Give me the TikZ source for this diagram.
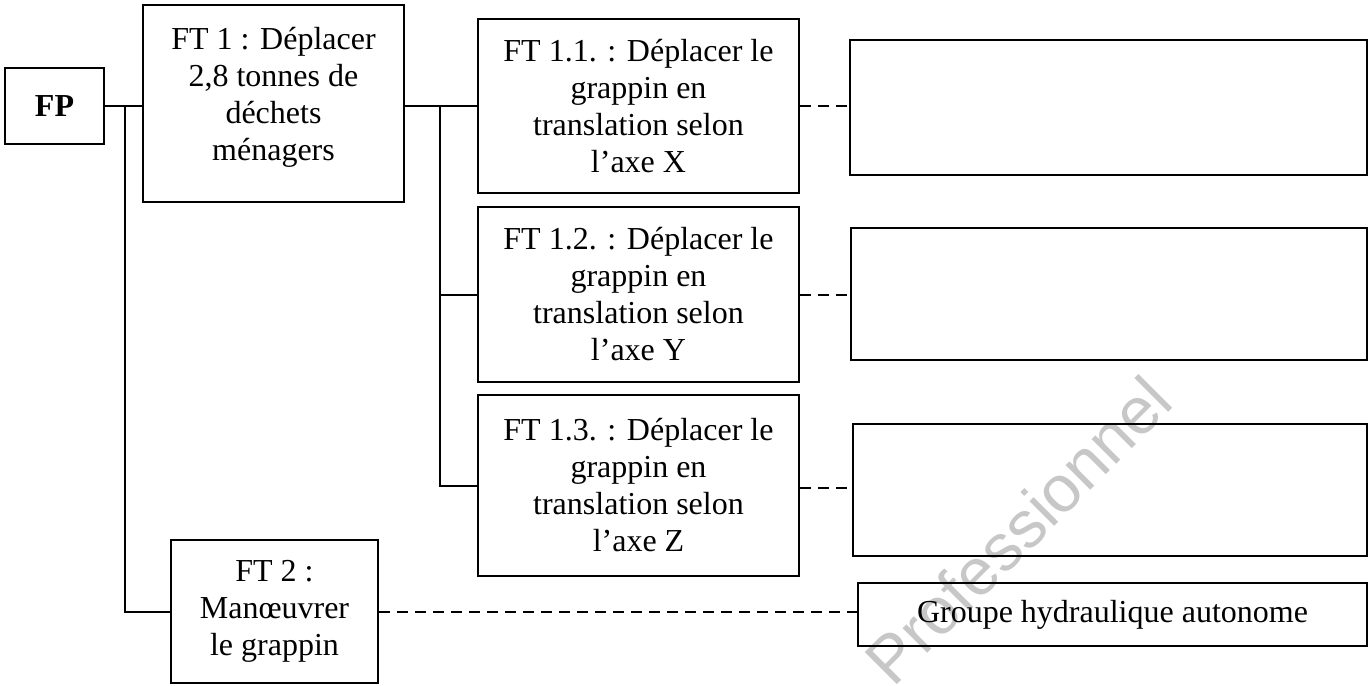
\documentclass[tikz,border=0pt]{standalone}
\usepackage{fontspec}
\setmainfont{Liberation Serif}
\newfontfamily\wmfont{Liberation Sans}
\begin{document}
\begin{tikzpicture}[x=0.5pt,y=-0.5pt,
  box/.style={draw=black, line width=1pt, rectangle, inner sep=0pt, align=center,
    font=\fontsize{16pt}{18.5pt}\selectfont},
  txt/.style={inner sep=0pt, align=center, font=\fontsize{16pt}{18.5pt}\selectfont},
  link/.style={draw=black, line width=1pt},
  dashlink/.style={draw=black, line width=1pt, dash pattern=on 5.5pt off 3.5pt},
  wm/.style={inner sep=0pt, text=black!22, font=\wmfont\fontsize{33pt}{33pt}\selectfont}]
\useasboundingbox (0,0) rectangle (1369,685);
% watermark
\node[wm, rotate=45] (wm) at (1018,530) {Professionnel};
% boxes
\node[box, minimum width=49.5pt, minimum height=38pt] (FP) at (54.5,106) {\textbf{FP}};
\node[box, minimum width=130.5pt, minimum height=98.5pt] (FT1) at (273.5,103.5) {};
\node[txt] (FT1t) at (273.5,97) {FT 1 : Déplacer\\2,8 tonnes de\\déchets\\ménagers};
\node[box, minimum width=160.5pt, minimum height=87pt] (FT11) at (638.5,106)
  {FT 1.1. : Déplacer le\\grappin en\\translation selon\\l'axe X};
\node[box, minimum width=160.5pt, minimum height=87.5pt] (FT12) at (638.5,294.5)
  {FT 1.2. : Déplacer le\\grappin en\\translation selon\\l'axe Y};
\node[box, minimum width=160.5pt, minimum height=90.5pt] (FT13) at (638.5,485.5)
  {FT 1.3. : Déplacer le\\grappin en\\translation selon\\l'axe Z};
\node[box, minimum width=103.5pt, minimum height=71.5pt] (FT2) at (274.5,611.5)
  {FT 2 :\\Manœuvrer\\le grappin};
\node[box, minimum width=258.5pt, minimum height=67.5pt] (R1) at (1108.5,107.5) {};
\node[box, minimum width=258pt, minimum height=66pt] (R2) at (1109,294) {};
\node[box, minimum width=257pt, minimum height=66pt] (R3) at (1110,490) {};
\node[box, minimum width=254.5pt, minimum height=31.5pt] (R4) at (1112.5,614.5)
  {Groupe hydraulique autonome};
% junctions
\coordinate (j1) at (125,106);
\coordinate (j2) at (440,106);
% solid connectors
\draw[link] (FP.east) -- (FP.east -| FT1.west);
\draw[link] (j1) |- (FT2.west);
\draw[link] (FT11.west -| FT1.east) -- (FT11.west);
\draw[link] (j2) |- (FT12.west);
\draw[link] (j2) |- (FT13.west);
% dashed connectors
\draw[dashlink] (FT11.east) -- (FT11.east -| R1.west);
\draw[dashlink] (FT12.east) -- (FT12.east -| R2.west);
\draw[dashlink] ([yshift=-1pt]FT13.east) -- ([yshift=-1pt]FT13.east -| R3.west);
\draw[dashlink] (FT2.east) -- (FT2.east -| R4.west);
\end{tikzpicture}
\end{document}
